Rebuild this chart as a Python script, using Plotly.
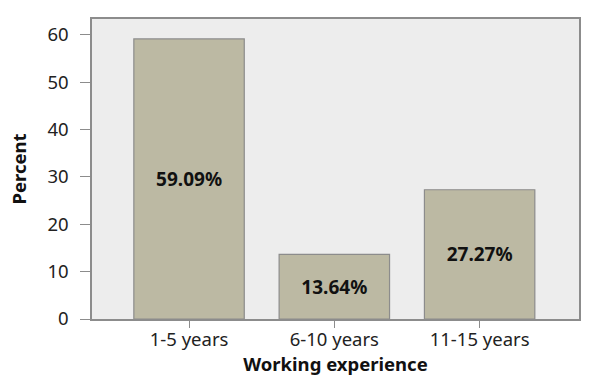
import plotly.graph_objects as go

categories = ["1-5 years", "6-10 years", "11-15 years"]
percent = [59.09, 13.64, 27.27]
labels = ["59.09%", "13.64%", "27.27%"]
y_ticks = [0, 10, 20, 30, 40, 50, 60]

font_family = "Noto Sans, DejaVu Sans, sans-serif"

fig = go.Figure(
    go.Bar(
        x=[0, 1, 2],
        y=percent,
        text=labels,
        textposition="inside",
        insidetextanchor="middle",
        textangle=0,
        textfont=dict(family=font_family, size=19, color="#111111", weight="bold"),
        marker=dict(color="#bcb9a3", line=dict(color="#8c8c8c", width=1.2)),
        width=0.76,
    )
)

fig.update_layout(
    width=600,
    height=383,
    margin=dict(l=92, r=21, t=19, b=64),
    paper_bgcolor="white",
    plot_bgcolor="#ededed",
    showlegend=False,
    font=dict(family=font_family, size=18, color="#222222"),
    uniformtext=dict(mode=False),
)

fig.update_xaxes(
    range=[-0.668, 2.684],
    tickmode="array",
    tickvals=[0, 1, 2],
    ticktext=categories,
    ticks="outside",
    ticklen=7,
    tickcolor="#8c8c8c",
    tickwidth=1,
    ticklabelstandoff=-4,
    showline=True,
    linecolor="#8c8c8c",
    linewidth=1.5,
    mirror=True,
    showgrid=False,
    zeroline=False,
    tickfont=dict(size=18.5, color="#222222"),
    title=dict(text="<b>Working experience</b>", font=dict(size=18.5, color="#111111"), standoff=0),
)

fig.update_yaxes(
    range=[0, 63.3],
    tickmode="array",
    tickvals=y_ticks,
    ticks="outside",
    ticklen=10,
    tickcolor="#8c8c8c",
    tickwidth=1,
    ticklabelstandoff=8,
    showline=True,
    linecolor="#8c8c8c",
    linewidth=1.5,
    mirror=True,
    showgrid=False,
    zeroline=False,
    tickfont=dict(size=18.5, color="#222222"),
    title=dict(text="<b>Percent</b>", font=dict(size=18.5, color="#111111"), standoff=16),
)

fig.write_html("out.html")
